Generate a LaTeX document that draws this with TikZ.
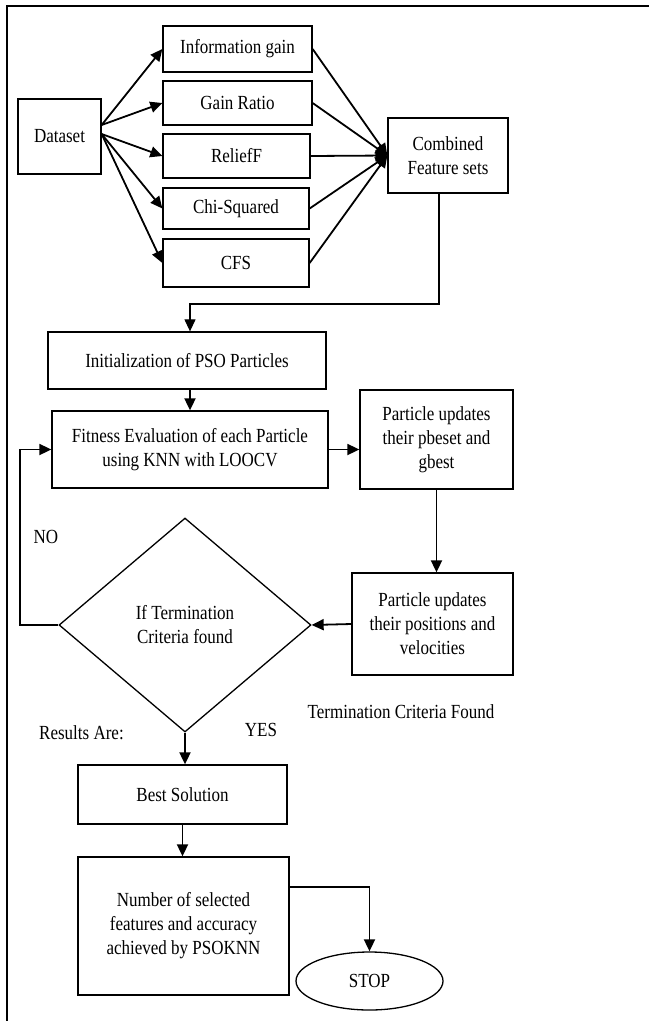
\documentclass[tikz,border=0pt]{standalone}
\usepackage{fontspec}
\setmainfont{Liberation Serif}[FakeStretch=0.85]
\usetikzlibrary{arrows.meta,shapes}

\begin{document}
\begin{tikzpicture}[x=1pt,y=-1pt,>={Triangle[length=12pt,width=11pt]},
  box/.style={draw,line width=1.3pt,inner sep=2pt,align=center,font=\fontsize{20}{24}\selectfont},
  lbl/.style={font=\fontsize{20}{24}\selectfont}]
\useasboundingbox (0,0) rectangle (649,1021);
\draw [line width=1.6pt] (7,1021) -- (7,6) -- (649,6);

\node (Data) at (59.5,136.5)[box,minimum width=83pt,minimum height=75pt] {Dataset};
\node (IG) at (237.5,49)[box,minimum width=149pt,minimum height=46pt] {Information gain};
\node (GR) at (237.5,103)[box,minimum width=149pt,minimum height=44pt] {Gain Ratio};
\node (RF) at (236.5,156)[box,minimum width=147pt,minimum height=44pt] {ReliefF};
\node (CS) at (236,208.5)[box,minimum width=146pt,minimum height=41pt] {Chi-Squared};
\node (CFS) at (236,263)[box,minimum width=146pt,minimum height=48pt] {CFS};
\node (Comb) at (448,155.5)[box,minimum width=120pt,minimum height=75pt] {Combined\\Feature sets};
\node (Init) at (187,360.5)[box,minimum width=278pt,minimum height=57pt] {Initialization of PSO Particles};
\node (Fit) at (190,449.5)[box,minimum width=276pt,minimum height=77pt] {Fitness Evaluation of each Particle\\using KNN with LOOCV};
\node (Pbest) at (436.5,439.5)[box,minimum width=153pt,minimum height=99pt] {Particle updates\\their pbeset and\\gbest};
\node (Pos) at (432.5,624)[box,minimum width=161pt,minimum height=102pt] {Particle updates\\their positions and\\velocities};
\node (Term) at (185,625)[box,diamond,inner sep=0pt,minimum width=252pt,minimum height=214pt] {If Termination\\Criteria found};
\node (Best) at (182.5,794.5)[box,minimum width=209pt,minimum height=59pt] {Best Solution};
\node (Num) at (183.5,926)[box,minimum width=211pt,minimum height=138pt] {Number of selected\\features and accuracy\\achieved by PSOKNN};
\node (Stop) at (369.5,981)[box,ellipse,minimum width=147pt,minimum height=58pt] {STOP};

\node (No) at (46,537)[lbl] {NO};
\node (Res) at (81.5,733)[lbl] {Results Are:};
\node (Yes) at (261,730)[lbl] {YES};
\node (Found) at (401,712)[lbl] {Termination Criteria Found};
\coordinate (Bend) at (190,304);

\draw [->,line width=1.8pt] ([yshift=11.5pt]Data.east) -- (IG.west);
\draw [->,line width=1.8pt] ([yshift=11.5pt]Data.east) -- (GR.west);
\draw [->,line width=1.8pt] ([yshift=2.5pt]Data.east) -- (RF.west);
\draw [->,line width=1.8pt] ([yshift=2.5pt]Data.east) -- (CS.west);
\draw [->,line width=1.8pt] ([yshift=2.5pt]Data.east) -- (CFS.west);
\draw [->,line width=1.8pt] (IG.east) -- (Comb.west);
\draw [->,line width=1.8pt] (GR.east) -- (Comb.west);
\draw [->,line width=1.8pt] (RF.east) -- (Comb.west);
\draw [->,line width=1.8pt] (CS.east) -- (Comb.west);
\draw [->,line width=1.8pt] (CFS.east) -- (Comb.west);
\draw [->,line width=1.2pt] ([xshift=-9pt]Comb.south) |- (Bend) -- (Bend |- Init.north);
\draw [->,line width=1.8pt] (Init.south -| Fit.north) -- (Fit.north);
\draw [->,line width=1.8pt] (Fit.east) -- (Fit.east -| Pbest.west);
\draw [->,line width=1.8pt] (Pbest.south) -- (Pbest.south |- Pos.north);
\draw [->,line width=1.8pt] (Pos.west) -- (Term.east);
\draw [->,line width=1.8pt] (Term.west) -- ++(-38,0) |- (Fit.west);
\draw [->,line width=1.8pt] (Term.south) -- (Term.south |- Best.north);
\draw [->,line width=1.8pt] (Best.south) -- (Best.south |- Num.north);
\draw [->,line width=1.8pt] ([yshift=39pt]Num.east) -| (Stop.north);
\end{tikzpicture}
\end{document}
